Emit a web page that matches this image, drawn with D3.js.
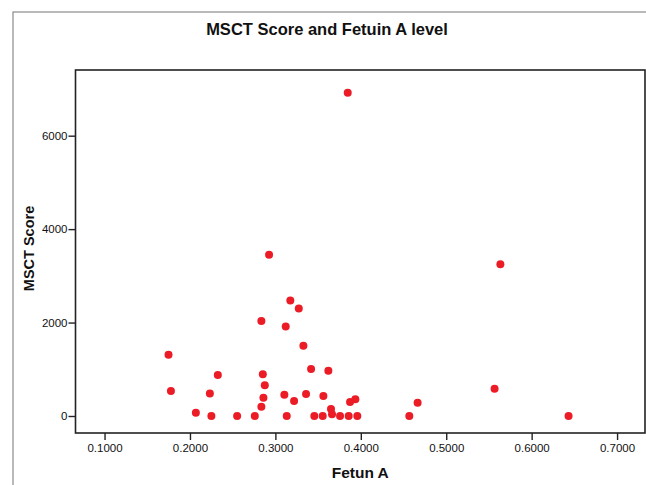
<!DOCTYPE html>
<html lang="en">
  <head>
    <meta charset="utf-8" />
    <title>MSCT Score and Fetuin A level</title>
    <script src="https://cdnjs.cloudflare.com/ajax/libs/d3/7.8.5/d3.min.js"></script>
    <style type="text/css">
      body {
        margin: 0;
        background: #fff;
      }

      svg text {
        font-family: "Liberation Sans", Arial, sans-serif;
      }

      .dot {
        fill: #ec1c26;
      }

      .tick text {
        font-size: 11.5px;
        fill: #111;
      }
    </style>
  </head>

  <body>
    <script>
      // values
      const fetuinA = [
        0.3847, 0.2926, 0.3175, 0.3274, 0.2836, 0.3121, 0.3328, 0.1749,
        0.3418, 0.3620, 0.2326, 0.2853, 0.1777, 0.2876, 0.2233, 0.2860,
        0.3105, 0.3359, 0.3562, 0.3219, 0.2836, 0.3874, 0.3936, 0.4665,
        0.3651, 0.2069, 0.2251, 0.2552, 0.2759, 0.3133, 0.3456, 0.3554,
        0.3663, 0.3757, 0.3858, 0.3959, 0.4568, 0.5634, 0.5566, 0.6432,
      ];
      const msctScore = [
        6920, 3450, 2470, 2300, 2035, 1915, 1505, 1310,
        1005, 970, 880, 895, 535, 660, 480, 390,
        455, 470, 430, 320, 200, 300, 360, 285,
        150, 70, 0, 0, 0, 0, 0, 0,
        35, 0, 0, 0, 0, 3250, 585, 0,
      ];
      const xTicks = [0.1, 0.2, 0.3, 0.4, 0.5, 0.6, 0.7];
      const yTicks = [0, 2000, 4000, 6000];

      const width = 646;
      const height = 485;
      const plotLeft = 75.5;
      const plotRight = 645;
      const plotTop = 70;
      const plotBottom = 433;

      const svg = d3
        .select("body")
        .append("svg")
        .attr("width", width)
        .attr("height", height)
        .attr("viewBox", [0, 0, width, height]);

      // outer chart border (cut off on the right and bottom)
      svg.append("rect")
        .attr("x", 13)
        .attr("y", 12)
        .attr("width", 700)
        .attr("height", 600)
        .attr("fill", "none")
        .attr("stroke", "#8a8a8a")
        .attr("stroke-width", 1.2);

      const x = d3.scaleLinear()
        .domain([0.066, 0.7327])
        .range([plotLeft, plotRight]);

      const y = d3.scaleLinear()
        .domain([-364, 7406])
        .range([plotBottom, plotTop]);

      // x axis
      svg.append("g")
        .attr("transform", `translate(0, ${plotBottom})`)
        .call(d3.axisBottom(x).tickValues(xTicks).tickFormat(d3.format(".4f")).tickSize(7).tickPadding(4))
        .call(g => g.select(".domain").remove())
        .call(g => g.selectAll(".tick line").attr("stroke", "#222").attr("stroke-width", 1.4));

      // y axis
      svg.append("g")
        .attr("transform", `translate(${plotLeft}, 0)`)
        .call(d3.axisLeft(y).tickValues(yTicks).tickFormat(d3.format("d")).tickSize(7).tickPadding(1))
        .call(g => g.select(".domain").remove())
        .call(g => g.selectAll(".tick line").attr("stroke", "#222").attr("stroke-width", 1.4));

      // plot frame
      svg.append("rect")
        .attr("x", plotLeft)
        .attr("y", plotTop)
        .attr("width", plotRight - plotLeft)
        .attr("height", plotBottom - plotTop)
        .attr("fill", "none")
        .attr("stroke", "#222")
        .attr("stroke-width", 1.6);

      // points
      svg.append("g")
        .selectAll("circle")
        .data(fetuinA)
        .join("circle")
        .attr("class", "dot")
        .attr("cx", d => x(d))
        .attr("cy", (d, i) => y(msctScore[i]))
        .attr("r", 4);

      // title
      svg.append("text")
        .attr("x", 327)
        .attr("y", 34.5)
        .attr("text-anchor", "middle")
        .attr("font-size", 16.5)
        .attr("font-weight", "bold")
        .attr("fill", "#111")
        .text("MSCT Score and Fetuin A level");

      // axis titles
      svg.append("text")
        .attr("x", (plotLeft + plotRight) / 2)
        .attr("y", 478)
        .attr("text-anchor", "middle")
        .attr("font-size", 15.5)
        .attr("font-weight", "bold")
        .attr("fill", "#111")
        .text("Fetun A");

      svg.append("text")
        .attr("transform", `translate(34, ${(plotTop + plotBottom) / 2 - 3}) rotate(-90)`)
        .attr("text-anchor", "middle")
        .attr("font-size", 14.5)
        .attr("font-weight", "bold")
        .attr("fill", "#111")
        .text("MSCT Score");
    </script>
  </body>
</html>
